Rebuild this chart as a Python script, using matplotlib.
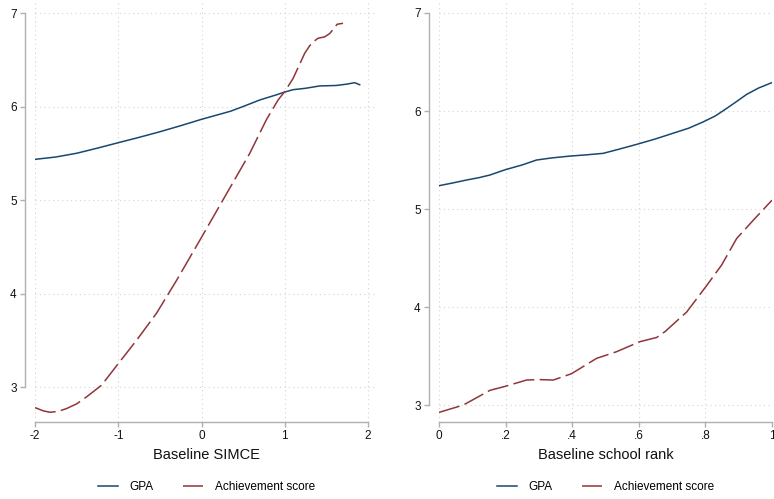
import matplotlib
matplotlib.use("Agg")
import matplotlib.pyplot as plt

plt.rcParams['font.family'] = ['Liberation Sans', 'DejaVu Sans']

# left panel: by baseline SIMCE
simce_gpa_x = [-2.0, -1.75, -1.5, -1.25, -1.0, -0.75, -0.5, -0.25, 0.0, 0.25, 0.35,
               0.5, 0.7, 0.9, 1.0, 1.1, 1.25, 1.42, 1.62, 1.75, 1.84, 1.9]
simce_gpa_y = [5.435, 5.46, 5.50, 5.555, 5.613, 5.67, 5.73, 5.795, 5.863, 5.925, 5.95,
               6.00, 6.07, 6.125, 6.155, 6.18, 6.195, 6.22, 6.225, 6.24, 6.255, 6.233]
simce_ach_x = [-2.0, -1.9, -1.82, -1.72, -1.62, -1.5, -1.38, -1.2, -1.0, -0.78, -0.54,
               -0.3, -0.02, 0.28, 0.58, 0.78, 0.92, 1.0, 1.1, 1.24, 1.3, 1.34, 1.4,
               1.48, 1.54, 1.63, 1.7]
simce_ach_y = [2.78, 2.745, 2.73, 2.74, 2.77, 2.82, 2.895, 3.02, 3.25, 3.50, 3.79,
               4.14, 4.57, 5.035, 5.50, 5.86, 6.07, 6.16, 6.30, 6.57, 6.65, 6.69, 6.73,
               6.745, 6.78, 6.88, 6.89]

# right panel: by baseline school rank
rank_gpa_x = [0.0, 0.04, 0.083, 0.12, 0.153, 0.198, 0.25, 0.293, 0.34, 0.393, 0.44,
              0.493, 0.54, 0.594, 0.65, 0.70, 0.75, 0.794, 0.83, 0.864, 0.895, 0.924,
              0.96, 1.0]
rank_gpa_y = [5.238, 5.265, 5.296, 5.32, 5.347, 5.40, 5.45, 5.50, 5.522, 5.54, 5.552,
              5.568, 5.61, 5.66, 5.715, 5.77, 5.825, 5.89, 5.95, 6.027, 6.10, 6.17,
              6.235, 6.29]
rank_ach_x = [0.0, 0.073, 0.153, 0.198, 0.263, 0.30, 0.343, 0.398, 0.473, 0.533,
              0.603, 0.654, 0.679, 0.744, 0.804, 0.849, 0.894, 0.949, 1.0]
rank_ach_y = [2.925, 3.0, 3.15, 3.19, 3.255, 3.26, 3.255, 3.32, 3.476, 3.544,
              3.646, 3.69, 3.75, 3.95, 4.22, 4.43, 4.70, 4.905, 5.09]

navy = '#1a476f'
maroon = '#90353b'
spine_c = '#b0b0b0'
grid_c = '#d4d4d4'

W, H = 774, 499
fig = plt.figure(figsize=(W / 100, H / 100), dpi=100)


def px_axes(x0, x1, y0, y1):
    return fig.add_axes([x0 / W, (H - y1) / H, (x1 - x0) / W, (y1 - y0) / H])


def style(ax, xticks, xlabels, xlim, ylim, xlabel):
    ax.set_xlim(*xlim)
    ax.set_ylim(*ylim)
    ax.set_xticks(xticks)
    ax.set_xticklabels(xlabels)
    ax.set_yticks([3, 4, 5, 6, 7])
    ax.grid(True, color=grid_c, linestyle=(0, (1, 3)), linewidth=0.8)
    ax.set_axisbelow(True)
    for s in ['top', 'right']:
        ax.spines[s].set_visible(False)
    ax.spines['left'].set_position(('outward', 7))
    ax.spines['left'].set_bounds(3, 7)
    ax.spines['bottom'].set_bounds(xticks[0], xticks[-1])
    for s in ['left', 'bottom']:
        ax.spines[s].set_color(spine_c)
        ax.spines[s].set_linewidth(1.0)
    ax.tick_params(direction='out', length=3.6, width=1.0, color=spine_c,
                   labelsize=8.5, labelcolor='#111111', pad=2.5)
    ax.set_xlabel(xlabel, fontsize=10.5, labelpad=4, color='#111111')


def draw(ax, gx, gy, ax_, ay):
    ax.plot(gx, gy, color=navy, lw=1.1, label='GPA')
    ax.plot(ax_, ay, color=maroon, lw=1.1, linestyle=(0, (14, 3.5)),
            label='Achievement score')
    ax.legend(loc='center', bbox_to_anchor=(0.5, -0.155), ncol=2, frameon=False,
              fontsize=8.5, handlelength=1.7, handletextpad=1.0, columnspacing=2.5)


ax1 = px_axes(35, 378, 3, 422)
draw(ax1, simce_gpa_x, simce_gpa_y, simce_ach_x, simce_ach_y)
style(ax1, [-2, -1, 0, 1, 2], ['-2', '-1', '0', '1', '2'], (-2, 2.12),
      (2.626, 7.107), 'Baseline SIMCE')

ax2 = px_axes(439, 772, 3, 422)
draw(ax2, rank_gpa_x, rank_gpa_y, rank_ach_x, rank_ach_y)
style(ax2, [0, 0.2, 0.4, 0.6, 0.8, 1.0], ['0', '.2', '.4', '.6', '.8', '1'],
      (0, 1.0), (2.827, 7.102), 'Baseline school rank')

fig.savefig('out.png', dpi=100)
